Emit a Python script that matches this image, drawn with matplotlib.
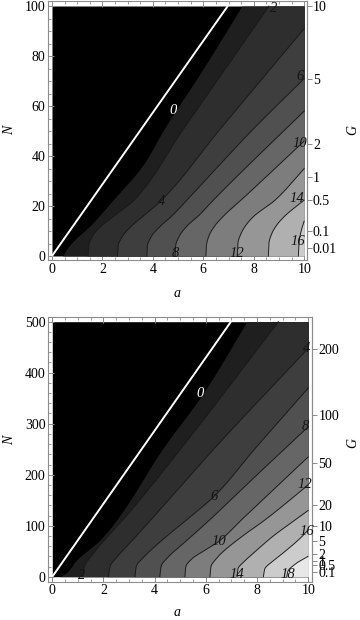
import numpy as np
import matplotlib
matplotlib.use("Agg")
import matplotlib.pyplot as plt
from matplotlib.ticker import MultipleLocator, NullLocator

plt.rcParams['font.family'] = ['Liberation Serif', 'DejaVu Serif']

# ---------------- data: top panel (N from 0 to 100) ----------------
top_white_a = [0.0, 6.97]
top_white_N = [0.0, 100.0]
top_jag_N = [0, 3, 6, 12, 22.4, 37, 50.4, 75, 100]
top_jag_a = [0.42, 0.6, 0.85, 1.5, 2.42, 3.65, 4.42, 6.0, 7.53]
top_levels = [2, 4, 6, 8, 10, 12, 14, 16]
t2_N = [0, 4, 8, 12, 16, 22.4, 50, 100]
t2_a = [1.43, 1.45, 1.6, 1.95, 2.45, 3.25, 5.15, 8.6]
t4_N = [0, 4, 8, 12, 16, 22.4, 50, 91]
t4_a = [2.6, 2.62, 2.8, 3.15, 3.62, 4.35, 6.6, 10.0]
t6_N = [0, 4, 8, 12, 16, 22.4, 50, 71]
t6_a = [3.76, 3.78, 3.95, 4.3, 4.75, 5.35, 7.9, 10.0]
t8_N = [0, 4, 8, 12, 16, 22.4, 58]
t8_a = [4.88, 4.9, 5.05, 5.35, 5.8, 6.4, 10.0]
t10_N = [0, 4, 8, 12, 16, 22.4, 46]
t10_a = [6.1, 6.12, 6.22, 6.45, 6.8, 7.5, 10.0]
t12_N = [0, 5, 9.1, 12.5, 15.7, 22.4, 35]
t12_a = [7.35, 7.37, 7.5, 7.7, 7.98, 8.85, 10.0]
t14_N = [0, 5, 9.1, 12.5, 15.7, 22.4]
t14_a = [8.58, 8.6, 8.72, 8.92, 9.2, 10.0]
t16_N = [0, 5, 10, 14]
t16_a = [9.77, 9.79, 9.88, 10.0]
top_G_ticks = [0.01, 0.1, 0.5, 1, 2, 5, 10]
top_G_labels = ["0.01", "0.1", "0.5", "1", "2", "5", "10"]
top_lab_text = ["2", "4", "6", "8", "10", "12", "14", "16"]
top_lab_a = [8.8, 4.35, 9.85, 4.9, 9.82, 7.35, 9.72, 9.75]
top_lab_N = [99, 21.7, 72, 1.0, 45, 1.0, 23, 6]

# ---------------- data: bottom panel (N from 0 to 500) ----------------
bot_white_a = [0.0, 6.98]
bot_white_N = [0.0, 500.0]
bot_jag_N = [0, 10, 30, 72, 111, 250, 360, 500]
bot_jag_a = [0.3, 0.6, 0.9, 1.86, 2.51, 4.3, 5.9, 7.6]
bot_levels = [2, 4, 6, 8, 10, 12, 14, 16, 18]
b2_N = [0, 20, 40, 70, 120, 250, 500]
b2_a = [1.19, 1.25, 1.5, 2.0, 2.9, 5.0, 8.83]
b4_N = [0, 20, 40, 70, 120, 250, 448]
b4_a = [2.19, 2.25, 2.55, 3.1, 4.0, 6.3, 10.0]
b6_N = [0, 20, 40, 70, 120, 158, 250, 370]
b6_a = [3.23, 3.28, 3.6, 4.25, 5.45, 6.33, 7.9, 10.0]
b8_N = [0, 20, 40, 60, 100, 200, 294]
b8_a = [4.2, 4.25, 4.55, 5.0, 5.9, 8.0, 10.0]
b10_N = [0, 20, 35, 50, 69, 111, 235]
b10_a = [5.18, 5.22, 5.45, 5.9, 6.5, 7.38, 10.0]
b12_N = [0, 20, 35, 45.8, 78.5, 111, 180]
b12_a = [6.16, 6.2, 6.4, 6.6, 7.4, 8.3, 10.0]
b14_N = [0, 15, 30, 45.8, 78.5, 111, 130]
b14_a = [7.22, 7.25, 7.5, 7.85, 8.6, 9.48, 10.0]
b16_N = [0, 15, 30, 45.8, 78.5, 92]
b16_a = [8.25, 8.3, 8.6, 9.0, 9.75, 10.0]
b18_N = [0, 10, 25, 40]
b18_a = [9.16, 9.2, 9.5, 10.0]
bot_G_ticks = [0.1, 0.5, 1, 2, 5, 10, 20, 50, 100, 200]
bot_G_labels = ["0.1", "0.5", "1", "2", "5", "10", "20", "50", "100", "200"]
bot_lab_text = ["2", "4", "6", "8", "10", "12", "14", "16", "18"]
bot_lab_a = [1.15, 9.93, 6.33, 9.9, 6.52, 9.85, 7.2, 9.93, 9.2]
bot_lab_N = [3, 448, 158, 294, 69, 180, 5, 88, 5]

# band shades (black region, then bands between successive contours)
band_gray = [0.12, 0.18, 0.245, 0.315, 0.40, 0.49, 0.59, 0.69, 0.80, 0.91]


def pchip(xp, yp, x):
    xp = np.asarray(xp, float)
    yp = np.asarray(yp, float)
    h = np.diff(xp)
    d = np.diff(yp) / h
    n = len(xp)
    m = np.empty(n)
    m[0] = d[0]
    m[-1] = d[-1]
    for k in range(1, n - 1):
        if d[k - 1] * d[k] <= 0:
            m[k] = 0.0
        else:
            w1 = 2 * h[k] + h[k - 1]
            w2 = h[k] + 2 * h[k - 1]
            m[k] = (w1 + w2) / (w1 / d[k - 1] + w2 / d[k])
    idx = np.clip(np.searchsorted(xp, x) - 1, 0, n - 2)
    t = (x - xp[idx]) / h[idx]
    h00 = 2 * t**3 - 3 * t**2 + 1
    h10 = t**3 - 2 * t**2 + t
    h01 = -2 * t**3 + 3 * t**2
    h11 = t**3 - t**2
    y = h00 * yp[idx] + h10 * h[idx] * m[idx] + h01 * yp[idx + 1] + h11 * h[idx] * m[idx + 1]
    out = np.full(len(x), np.nan)
    inside = (x >= xp[0]) & (x <= xp[-1] + 1e-9)
    out[inside] = y[inside]
    return out


def draw_panel(ax, Nmax, white, jag, lines, labels, G_ticks, G_labels, ymajor, yminor):
    Ng = np.linspace(0, Nmax, 1500)
    ax.fill_betweenx(Ng, 0, 10, color='black', lw=0, zorder=1)
    bounds = [jag] + lines
    for i, (bN, ba) in enumerate(bounds):
        a = pchip(bN, ba, Ng)
        a = np.minimum(np.nan_to_num(a, nan=10.0), 10.0)
        v = band_gray[i]
        ax.fill_betweenx(Ng, a, 10, color=(v, v, v), lw=0, zorder=2 + i * 0.01)
    for bN, ba in lines:
        a = pchip(bN, ba, Ng)
        ax.plot(a, Ng, color=(0.1, 0.1, 0.1), lw=0.65, zorder=5)
    ax.plot(white[0], white[1], color='white', lw=1.4, zorder=6, solid_capstyle='butt')
    for txt, xa, yn in zip(*labels):
        ax.text(xa, yn, txt, fontsize=10.5, style='italic', color=(0.08, 0.08, 0.08),
                ha='center', va='center', zorder=7)
    ax.xaxis.set_major_locator(MultipleLocator(2))
    ax.xaxis.set_minor_locator(MultipleLocator(0.5))
    ax.yaxis.set_major_locator(MultipleLocator(ymajor))
    ax.yaxis.set_minor_locator(MultipleLocator(yminor))
    for s in ax.spines.values():
        s.set_color('#8c8c8c')
        s.set_linewidth(0.8)
    ax.tick_params(which='both', direction='in', top=True, right=False,
                   color='#8c8c8c', labelsize=10, pad=2)
    ax.tick_params(which='major', length=4, width=0.7)
    ax.tick_params(which='minor', length=2, width=0.6)
    ax.tick_params(axis='y', pad=1.5)
    sec = ax.secondary_yaxis('right', functions=(
        lambda n: np.sign(n) * n**2 / 1000.0,
        lambda g: np.sign(g) * np.sqrt(np.abs(g) * 1000.0)))
    sec.set_yticks(G_ticks, labels=G_labels)
    sec.tick_params(direction='out', length=3.5, width=0.7, color='#8c8c8c',
                    labelsize=10, pad=1)
    sec.yaxis.set_minor_locator(NullLocator())
    sec.spines['right'].set_color('#8c8c8c')
    sec.spines['right'].set_linewidth(0.8)


fig = plt.figure(figsize=(3.6, 6.2), dpi=100)
ax1 = fig.add_axes([47.7 / 360, 1 - 260 / 620, (306.7 - 47.7) / 360, 259 / 620])
ax2 = fig.add_axes([47.7 / 360, 1 - 581.7 / 620, (312.3 - 47.7) / 360, 265 / 620])

ax1.set_xlim(-0.17, 10.1)
ax1.set_ylim(-1.6, 102)
ax2.set_xlim(-0.18, 10.16)
ax2.set_ylim(-9.8, 509.8)

top_lines = [(t2_N, t2_a), (t4_N, t4_a), (t6_N, t6_a), (t8_N, t8_a), (t10_N, t10_a),
             (t12_N, t12_a), (t14_N, t14_a), (t16_N, t16_a)]
draw_panel(ax1, 100, (top_white_a, top_white_N), (top_jag_N, top_jag_a), top_lines,
           (top_lab_text, top_lab_a, top_lab_N), top_G_ticks, top_G_labels, 20, 5)
ax1.text(4.8, 58, "0", fontsize=10.5, style='italic', color='white', ha='center', va='center', zorder=7)

bot_lines = [(b2_N, b2_a), (b4_N, b4_a), (b6_N, b6_a), (b8_N, b8_a), (b10_N, b10_a),
             (b12_N, b12_a), (b14_N, b14_a), (b16_N, b16_a), (b18_N, b18_a)]
draw_panel(ax2, 500, (bot_white_a, bot_white_N), (bot_jag_N, bot_jag_a), bot_lines,
           (bot_lab_text, bot_lab_a, bot_lab_N), bot_G_ticks, bot_G_labels, 100, 20)
ax2.text(5.77, 360, "0", fontsize=10.5, style='italic', color='white', ha='center', va='center', zorder=7)

for (x, y, t, r) in [(10, 130, "N", 90), (177, 293, "a", 0), (353, 130, "G", 90),
                     (10, 440, "N", 90), (177, 612, "a", 0), (353, 443, "G", 90)]:
    fig.text(x / 360, 1 - y / 620, t, fontsize=10, style='italic', rotation=r,
             ha='center', va='center')

fig.savefig("out.png", dpi=100)
